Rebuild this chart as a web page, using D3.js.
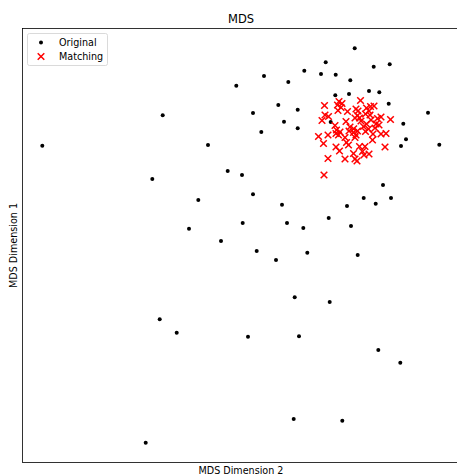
<!DOCTYPE html>
<html>
<head>
<meta charset="utf-8">
<script src="https://cdn.jsdelivr.net/npm/d3@7"></script>
<style>
  body { margin: 0; background: #fff; }
  svg { display: block; font-family: "DejaVu Sans", sans-serif; }
</style>
</head>
<body>
<div id="chart"></div>
<script>
// MDS coordinates (dimension 2 on x, dimension 1 on y)
var originalDim2 = [-1.977, -0.773, -0.32, 1.147, 0.857, 1.337, 1.497, 0.643, 0.24, 0.81,
  0.957, -0.037, 0.483, 1.103, 0.953, 1.09, 1.29, 1.393, 1.487, 0.383,
  0.13, 0.577, 1.88, 0.44, 0.907, 0.213, 0.577, 1.633, 1.66, 1.61,
  1.993, -0.877, -0.123, -0.417, -0.51, -0.19, 0.02, 0.13, 0.42, 1.43,
  1.237, 1.357, 1.51, 1.07, 0.027, 0.47, 0.633, 0.887, 1.11, 0.167,
  0.36, 0.673, 1.177, 0.547, 0.897, -0.803, -0.633, -0.943, 0.08, 0.59,
  1.383, 1.603, 0.537, 1.023];
var originalDim1 = [0.998, 1.302, 1.005, 1.972, 1.832, 1.788, 1.812, 1.748, 1.695, 1.715,
  1.708, 1.598, 1.635, 1.652, 1.502, 1.515, 1.545, 1.532, 1.418, 1.405,
  1.325, 1.358, 1.328, 1.238, 1.235, 1.135, 1.172, 1.218, 1.062, 0.995,
  1.008, 0.665, 0.745, 0.455, 0.168, 0.045, 0.705, 0.512, 0.408, 0.605,
  0.475, 0.418, 0.475, 0.395, 0.225, 0.225, 0.175, 0.275, 0.195, -0.055,
  -0.145, -0.072, -0.095, -0.518, -0.565, -0.738, -0.872, -1.972, -0.912, -0.908,
  -1.045, -1.172, -1.735, -1.752];

var matchingDim2 = [0.845, 0.99, 1.02, 0.975, 1.01, 1.205, 1.16, 1.18, 1.175, 1.15,
  1.195, 1.265, 1.29, 1.305, 1.34, 1.255, 1.30, 0.85, 0.885, 0.82,
  1.06, 1.075, 1.375, 1.41, 1.39, 1.36, 1.505, 0.95, 0.965, 0.96,
  0.985, 0.785, 0.88, 0.835, 1.05, 1.065, 1.085, 1.135, 1.16, 1.175,
  1.15, 1.235, 1.255, 1.285, 1.265, 1.33, 1.325, 1.41, 1.46, 1.45,
  0.96, 0.995, 1.135, 1.15, 1.17, 1.225, 1.24, 1.29, 1.195, 0.88,
  1.05, 0.84, 1.25, 0.98, 1.00, 1.137, 1.10, 1.21, 1.31, 1.35, 1.09];
var matchingDim1 = [1.40, 1.44, 1.42, 1.405, 1.38, 1.45, 1.365, 1.345, 1.30, 1.275,
  1.275, 1.375, 1.345, 1.39, 1.395, 1.315, 1.305, 1.305, 1.29, 1.25,
  1.24, 1.34, 1.27, 1.285, 1.205, 1.215, 1.26, 1.20, 1.155, 1.12,
  1.105, 1.09, 1.105, 1.02, 1.08, 1.03, 1.005, 1.13, 1.105, 1.145,
  1.08, 1.19, 1.14, 1.165, 1.215, 1.115, 1.055, 1.115, 1.12, 0.985,
  0.985, 0.945, 0.92, 0.865, 0.845, 0.94, 0.905, 0.915, 0.99, 0.87,
  0.865, 0.705, 0.99, 1.35, 1.135, 1.168, 1.185, 1.245, 1.255, 1.175, 1.145];

var seriesNames = ["Original", "Matching"];

var W = 457, H = 475;
var box = { left: 22.5, top: 28.5, right: 459.5, bottom: 462.5 };

var svg = d3.select("#chart").append("svg")
  .attr("width", W)
  .attr("height", H);

var x = d3.scaleLinear().domain([-2.175, 2.195]).range([box.left, box.right]);
var y = d3.scaleLinear().domain([-2.17, 2.17]).range([box.bottom, box.top]);

var original = originalDim2.map(function (v, i) { return [v, originalDim1[i]]; });
var matching = matchingDim2.map(function (v, i) { return [v, matchingDim1[i]]; });

var plot = svg.append("g");

plot.selectAll("circle.orig")
  .data(original)
.enter().append("circle")
  .attr("class", "orig")
  .attr("cx", function (d) { return x(d[0]); })
  .attr("cy", function (d) { return y(d[1]); })
  .attr("r", 2)
  .attr("fill", "#000");

var cross = d3.symbol().type(d3.symbolTimes).size(30);

plot.selectAll("path.match")
  .data(matching)
.enter().append("path")
  .attr("class", "match")
  .attr("transform", function (d) { return "translate(" + x(d[0]) + "," + y(d[1]) + ")"; })
  .attr("d", cross)
  .attr("fill", "none")
  .attr("stroke", "#ff0000")
  .attr("stroke-width", 1.5);

// spines, no ticks
svg.append("rect")
  .attr("x", box.left)
  .attr("y", box.top)
  .attr("width", box.right - box.left)
  .attr("height", box.bottom - box.top)
  .attr("fill", "none")
  .attr("stroke", "#000")
  .attr("stroke-width", 0.8);

var cx = (box.left + box.right) / 2;

svg.append("text")
  .attr("x", cx)
  .attr("y", 23)
  .attr("text-anchor", "middle")
  .style("font-size", "11.5px")
  .text("MDS");

svg.append("text")
  .attr("x", cx)
  .attr("y", 473.5)
  .attr("text-anchor", "middle")
  .style("font-size", "9.6px")
  .text("MDS Dimension 2");

svg.append("text")
  .attr("transform", "translate(16.5," + ((box.top + box.bottom) / 2) + ") rotate(-90)")
  .attr("text-anchor", "middle")
  .style("font-size", "9.6px")
  .text("MDS Dimension 1");

// legend
var legend = svg.append("g");
legend.append("rect")
  .attr("x", 27.5)
  .attr("y", 33.5)
  .attr("width", 80)
  .attr("height", 32)
  .attr("rx", 2)
  .attr("fill", "#fff")
  .attr("fill-opacity", 0.8)
  .attr("stroke", "#d0d0d0")
  .attr("stroke-width", 0.8);

legend.append("circle")
  .attr("cx", 41)
  .attr("cy", 42.5)
  .attr("r", 2)
  .attr("fill", "#000");

legend.append("path")
  .attr("transform", "translate(41,56.5)")
  .attr("d", cross)
  .attr("fill", "none")
  .attr("stroke", "#ff0000")
  .attr("stroke-width", 1.5);

legend.selectAll("text")
  .data(seriesNames)
.enter().append("text")
  .attr("x", 59)
  .attr("y", function (d, i) { return 45.8 + i * 14; })
  .style("font-size", "9.6px")
  .text(function (d) { return d; });
</script>
</body>
</html>
